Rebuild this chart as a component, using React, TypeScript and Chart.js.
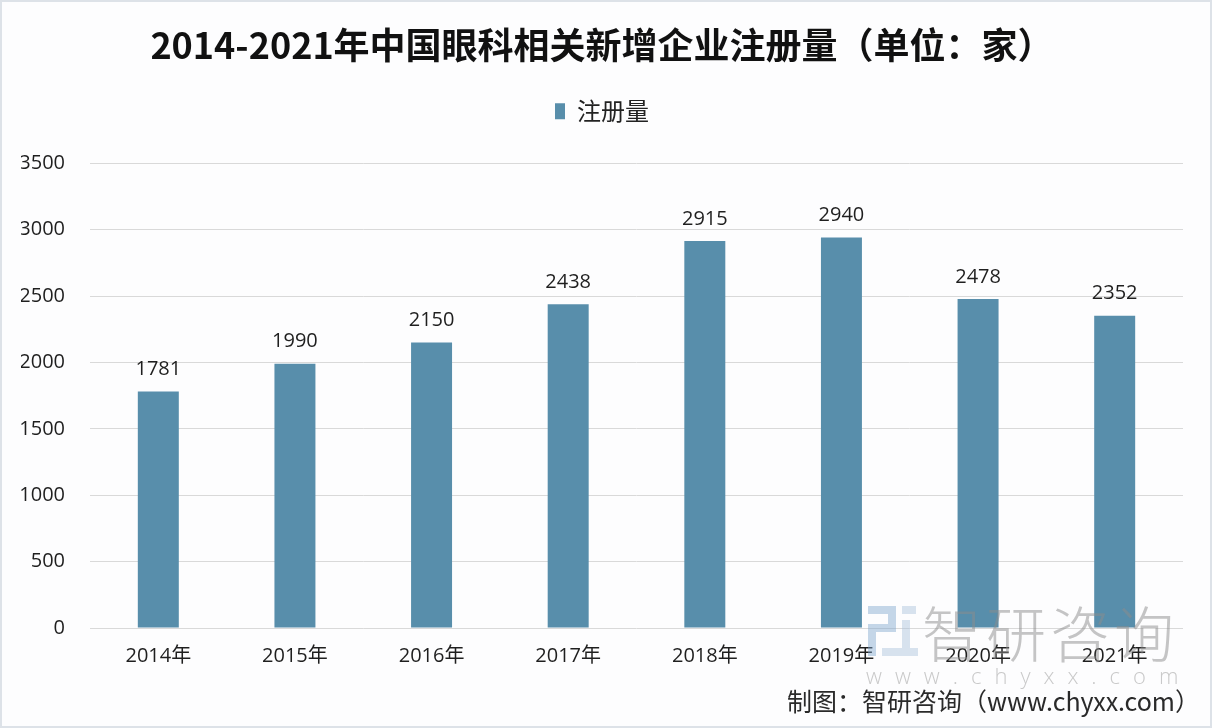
import React, { useEffect, useRef } from "react";
import { Chart, registerables } from "chart.js";

Chart.register(...registerables);

const TITLE = "2014-2021年中国眼科相关新增企业注册量（单位：家）";
const SERIES_NAME = "注册量";
const categories = ["2014年", "2015年", "2016年", "2017年", "2018年", "2019年", "2020年", "2021年"];
const values = [1781, 1990, 2150, 2438, 2915, 2940, 2478, 2352];
const yMin = 0;
const yMax = 3500;
const yStep = 500;
const SOURCE = "制图：智研咨询（www.chyxx.com）";
const WM_NAME = "智研咨询";
const WM_URL = "www.chyxx.com";

const FONT = "'Open Sans', 'Noto Sans CJK SC', sans-serif";
const BAR_COLOR = "#588eab";

const legendSpacer = {
  id: "legendSpacer",
  beforeInit(chart: any) {
    const legend = chart.legend;
    if (!legend) return;
    const orig = legend.fit;
    legend.fit = function fit() {
      orig.call(this);
      this.height += 30;
    };
  },
};

const valueLabels = {
  id: "valueLabels",
  afterDatasetsDraw(chart: any) {
    const ctx = chart.ctx;
    const meta = chart.getDatasetMeta(0);
    ctx.save();
    ctx.font = `20px ${FONT}`;
    ctx.fillStyle = "#1f1f1f";
    ctx.textAlign = "center";
    ctx.textBaseline = "bottom";
    meta.data.forEach((bar: any, i: number) => {
      ctx.fillText(String(chart.data.datasets[0].data[i]), bar.x, bar.y - 12);
    });
    ctx.restore();
  },
};

export default function App() {
  const canvasRef = useRef<HTMLCanvasElement | null>(null);

  useEffect(() => {
    document.body.style.margin = "0";
    const canvas = canvasRef.current;
    if (!canvas) return;
    const chart = new Chart(canvas, {
      type: "bar",
      data: {
        labels: categories,
        datasets: [
          {
            label: SERIES_NAME,
            data: values,
            backgroundColor: BAR_COLOR,
            borderWidth: 0,
            barPercentage: 0.3,
            categoryPercentage: 1,
          },
        ],
      },
      options: {
        animation: false,
        responsive: false,
        maintainAspectRatio: false,
        layout: { padding: { left: 21, right: 29, top: 0, bottom: 52 } },
        plugins: {
          title: {
            display: true,
            text: TITLE,
            color: "#111111",
            font: { family: "'Noto Sans CJK SC', sans-serif", size: 36, weight: "bold" },
            padding: { top: 24, bottom: 22 },
          },
          legend: {
            display: true,
            position: "top",
            labels: {
              color: "#222222",
              font: { family: "'Noto Sans CJK SC', sans-serif", size: 24 },
              boxWidth: 10,
              boxHeight: 16,
              padding: 10,
            },
          },
          tooltip: { enabled: false },
        },
        scales: {
          x: {
            grid: { display: false },
            border: { display: false },
            ticks: {
              color: "#1f1f1f",
              font: { family: FONT, size: 20 },
              padding: 8,
            },
          },
          y: {
            min: yMin,
            max: yMax,
            afterFit: (axis: any) => {
              axis.width = 69;
            },
            grid: { color: "#d9d9d9", lineWidth: 1, drawTicks: false },
            border: { display: false },
            ticks: {
              stepSize: yStep,
              color: "#1f1f1f",
              font: { family: FONT, size: 20 },
              padding: 25,
              callback: (v: any) => String(v),
            },
          },
        },
      },
      plugins: [legendSpacer, valueLabels],
    } as any);
    return () => chart.destroy();
  }, []);

  return (
    <div
      style={{
        position: "relative",
        width: 1212,
        height: 728,
        background: "#fdfdfe",
        overflow: "hidden",
      }}
    >
      <canvas ref={canvasRef} width={1212} height={728} style={{ position: "absolute", left: 0, top: 0 }} />
      {/* watermark */}
      <div style={{ position: "absolute", left: 868, top: 606, width: 52, height: 50, opacity: 0.45, pointerEvents: "none" }}>
        <div style={{ position: "absolute", left: 0, top: 0, width: 28, height: 8, background: "#7fa6cf" }} />
        <div style={{ position: "absolute", left: 20, top: 0, width: 8, height: 26, background: "#7fa6cf" }} />
        <div style={{ position: "absolute", left: 0, top: 18, width: 28, height: 8, background: "#7fa6cf" }} />
        <div style={{ position: "absolute", left: 0, top: 18, width: 8, height: 32, background: "#7fa6cf" }} />
        <div style={{ position: "absolute", left: 34, top: 0, width: 14, height: 8, background: "#a9c2dc" }} />
        <div style={{ position: "absolute", left: 34, top: 14, width: 8, height: 30, background: "#a9c2dc" }} />
        <div style={{ position: "absolute", left: 14, top: 42, width: 36, height: 8, background: "#a9c2dc" }} />
      </div>
      <div
        style={{
          position: "absolute",
          left: 922,
          top: 596,
          fontFamily: "'Noto Sans CJK SC', sans-serif",
          fontWeight: 300,
          fontSize: 60,
          letterSpacing: 4,
          color: "rgba(140,140,140,0.5)",
          lineHeight: "70px",
          pointerEvents: "none",
        }}
      >
        {WM_NAME}
      </div>
      <div
        style={{
          position: "absolute",
          left: 866,
          top: 662,
          fontFamily: "'Open Sans', sans-serif",
          fontWeight: 300,
          fontSize: 22,
          letterSpacing: 13,
          color: "rgba(150,150,150,0.5)",
          lineHeight: "26px",
          pointerEvents: "none",
        }}
      >
        {WM_URL}
      </div>
      <div
        style={{
          position: "absolute",
          right: 12,
          top: 684,
          fontFamily: "'Noto Sans CJK SC', sans-serif",
          fontSize: 25,
          color: "#2a2a2a",
          lineHeight: "32px",
          whiteSpace: "nowrap",
        }}
      >
        {SOURCE}
      </div>
      <div
        style={{
          position: "absolute",
          left: 0,
          top: 0,
          width: 1212,
          height: 728,
          boxSizing: "border-box",
          border: "2px solid #dde2e8",
          pointerEvents: "none",
        }}
      />
    </div>
  );
}
